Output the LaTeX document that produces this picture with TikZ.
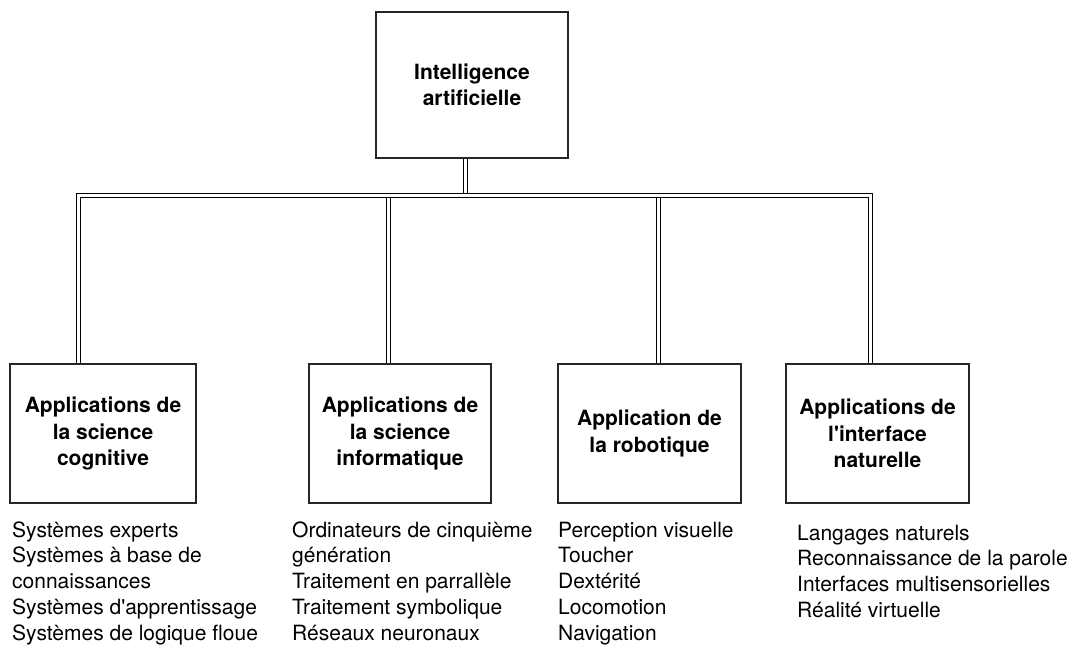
\documentclass[tikz,border=0pt]{standalone}
\usepackage{fontspec}
\setmainfont{TeX Gyre Heros}[Ligatures=TeXOff]
\begin{document}
\begin{tikzpicture}[x=1pt,y=-1pt,
  box/.style={draw=black!85,line width=1.1pt,fill=white,inner sep=0pt,
    align=center,font=\fontsize{21}{26.5}\selectfont\bfseries},
  link/.style={draw=black,line width=1.6pt,double=white,double distance=2.2pt,line join=miter},
  list/.style={anchor=base west,inner sep=0pt,font=\fontsize{21}{25.8}\selectfont}]
\fill[white] (0,0) rectangle (1077,645);
\useasboundingbox (0,0) rectangle (1077,645);

% boxes
\node[box,minimum width=192pt,minimum height=146pt] (top) at (472,85) {Intelligence\\artificielle};
\node[box,minimum width=186pt,minimum height=139pt] (b1) at (103,433.5) {Applications de\\la science\\cognitive};
\node[box,minimum width=182pt,minimum height=139pt] (b2) at (400,433.5) {Applications de\\la science\\informatique};
\node[box,minimum width=183pt,minimum height=139pt] (b3) at (649.5,433.5) {Application de\\la robotique};
\node[box,minimum width=183pt,minimum height=139pt] (b4) at (877.5,433.5) {Applications de\\l'interface\\naturelle};

% junction points on the bus
\coordinate (j0) at (465.5,195.5);
\coordinate (j1) at (78.5,195.5);
\coordinate (j2) at (388.5,195.5);
\coordinate (j3) at (658.5,195.5);
\coordinate (j4) at (870.5,195.5);

% connectors
\draw[link] (top.south -| j0) -- (j0);
\draw[link] (j2) -- (j2 |- b2.north);
\draw[link] (j3) -- (j3 |- b3.north);
\draw[link] (j1 |- b1.north) -- (j1) -- (j4) -- (j4 |- b4.north);

% lists under the boxes
\node[list] (l1) at (12,537) {\begin{tabular}[t]{@{}l@{}}Systèmes experts\\Systèmes à base de\\connaissances\\Systèmes d'apprentissage\\Systèmes de logique floue\end{tabular}};
\node[list] (l2) at (292,537) {\begin{tabular}[t]{@{}l@{}}Ordinateurs de cinquième\\génération\\Traitement en parrallèle\\Traitement symbolique\\Réseaux neuronaux\end{tabular}};
\node[list] (l3) at (558,537) {\begin{tabular}[t]{@{}l@{}}Perception visuelle\\Toucher\\Dextérité\\Locomotion\\Navigation\end{tabular}};
\node[list] (l4) at (797,540) {\begin{tabular}[t]{@{}l@{}}Langages naturels\\Reconnaissance de la parole\\Interfaces multisensorielles\\Réalité virtuelle\end{tabular}};
\end{tikzpicture}
\end{document}
